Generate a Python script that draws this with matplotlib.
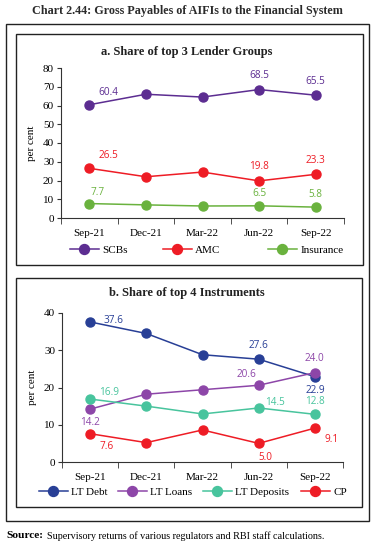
import matplotlib
matplotlib.use("Agg")
import matplotlib.pyplot as plt
from matplotlib.patches import Rectangle
import numpy as np

quarters = ["Sep-21", "Dec-21", "Mar-22", "Jun-22", "Sep-22"]

# panel a: share of top 3 lender groups (per cent)
scbs = [60.4, 66.0, 64.5, 68.5, 65.5]
amc = [26.5, 22.0, 24.5, 19.8, 23.3]
insurance = [7.7, 7.0, 6.4, 6.5, 5.8]

# panel b: share of top 4 instruments (per cent)
lt_debt = [37.6, 34.5, 28.8, 27.6, 22.9]
lt_loans = [14.2, 18.2, 19.4, 20.6, 24.0]
lt_deposits = [16.9, 15.0, 12.9, 14.5, 12.8]
cp = [7.6, 5.2, 8.6, 5.0, 9.1]

SERIF = "Liberation Serif"
SANS = "Open Sans"
W, H = 374, 548

fig = plt.figure(figsize=(W / 100, H / 100), dpi=100)


def fx(px):
    return px / W


def fy(py):
    return 1 - py / H


def box(x0, y0, x1, y1, lw=1.0):
    fig.patches.append(Rectangle((fx(x0), fy(y1)), fx(x1 - x0), (y1 - y0) / H,
                                 transform=fig.transFigure, fill=False,
                                 edgecolor="#222222", lw=lw))


box(6, 24, 369, 521)
box(16, 34, 363, 265)
box(16, 278, 362, 507)

fig.text(0.5, fy(11), "Chart 2.44: Gross Payables of AIFIs to the Financial System",
         ha="center", va="center", fontsize=8.7, fontweight="bold", family=SERIF,
         color="#2b2b2b")
fig.text(fx(187), fy(52), "a. Share of top 3 Lender Groups", ha="center", va="center",
         fontsize=9, fontweight="bold", family=SERIF, color="#222222")
fig.text(fx(187), fy(293), "b. Share of top 4 Instruments", ha="center", va="center",
         fontsize=9, fontweight="bold", family=SERIF, color="#222222")
fig.text(fx(6), fy(536), "Source:", ha="left", va="center", fontsize=8.2,
         fontweight="bold", family=SERIF)
fig.text(fx(47), fy(536), "Supervisory returns of various regulators and RBI staff calculations.",
         ha="left", va="center", fontsize=7.3, family=SERIF)


def style_axes(ax, ymax, ystep):
    x = np.arange(len(quarters))
    ax.set_xlim(-0.5, len(quarters) - 0.5)
    ax.set_ylim(0, ymax)
    ax.set_yticks(np.arange(0, ymax + 1, ystep))
    ax.set_xticks(x)
    ax.set_xticklabels(quarters, family=SERIF, fontsize=8)
    ax.set_xticks(np.arange(-0.5, len(quarters)), minor=True)
    ax.tick_params(axis="x", which="major", length=0, pad=8)
    ax.tick_params(axis="x", which="minor", length=4, color="#333333")
    ax.tick_params(axis="y", length=3, color="#333333", labelsize=8, pad=2)
    for lab in ax.get_yticklabels():
        lab.set_family(SERIF)
    for s in ["top", "right"]:
        ax.spines[s].set_visible(False)
    for s in ["left", "bottom"]:
        ax.spines[s].set_color("#333333")
        ax.spines[s].set_linewidth(0.8)
    ax.set_ylabel("per cent", family=SERIF, fontsize=8, labelpad=5)
    ax.patch.set_alpha(0)


def series(ax, vals, color, name):
    line, = ax.plot(np.arange(len(vals)), vals, color=color, lw=1.1, marker="o", ms=6.5,
                    label=name, clip_on=False)
    return line


def label(ax, i, vals, color, dx, dy, ha="center"):
    ax.annotate(f"{vals[i]:.1f}", (i, vals[i]), xytext=(dx, dy), textcoords="offset points",
                ha=ha, va="center", fontsize=7.2, family=SANS, color=color)


def legend_at(line, xpx, ypx):
    fig.legend([line], [line.get_label()], loc="center left",
               bbox_to_anchor=(fx(xpx), fy(ypx)), frameon=False,
               prop={"family": SERIF, "size": 8}, handlelength=2.6,
               handletextpad=0.3, borderaxespad=0, borderpad=0, markerscale=1.1)


# panel a
ax1 = fig.add_axes([fx(61), fy(218), fx(344 - 61), (218 - 68) / H])
style_axes(ax1, 80, 10)
c_scb, c_amc, c_ins = "#5c2d91", "#ee1c25", "#6ab23e"
l1 = series(ax1, scbs, c_scb, "SCBs")
l2 = series(ax1, amc, c_amc, "AMC")
l3 = series(ax1, insurance, c_ins, "Insurance")
label(ax1, 0, scbs, c_scb, 14, 9)
label(ax1, 3, scbs, c_scb, 0, 10)
label(ax1, 4, scbs, c_scb, 0, 10)
label(ax1, 0, amc, c_amc, 14, 9)
label(ax1, 3, amc, c_amc, 0, 10)
label(ax1, 4, amc, c_amc, 0, 10)
label(ax1, 0, insurance, c_ins, 6, 8)
label(ax1, 3, insurance, c_ins, 0, 9)
label(ax1, 4, insurance, c_ins, 0, 9)
legend_at(l1, 70, 250)
legend_at(l2, 163, 250)
legend_at(l3, 268, 250)

# panel b
ax2 = fig.add_axes([fx(62), fy(462), fx(343 - 62), (462 - 313) / H])
style_axes(ax2, 40, 10)
c_debt, c_loans, c_dep, c_cp = "#283f96", "#8d46a8", "#48c49d", "#ee1c25"
m1 = series(ax2, lt_debt, c_debt, "LT Debt")
m2 = series(ax2, lt_loans, c_loans, "LT Loans")
m3 = series(ax2, lt_deposits, c_dep, "LT Deposits")
m4 = series(ax2, cp, c_cp, "CP")
label(ax2, 0, lt_debt, c_debt, 17, 1)
label(ax2, 3, lt_debt, c_debt, 0, 10)
label(ax2, 4, lt_debt, c_debt, 0, -10)
label(ax2, 0, lt_loans, c_loans, 0, -10)
label(ax2, 3, lt_loans, c_loans, -9, 8)
label(ax2, 4, lt_loans, c_loans, 0, 10)
label(ax2, 0, lt_deposits, c_dep, 14, 5)
label(ax2, 3, lt_deposits, c_dep, 12, 4)
label(ax2, 4, lt_deposits, c_dep, 0, 9)
label(ax2, 0, cp, c_cp, 12, -9)
label(ax2, 3, cp, c_cp, 5, -10)
label(ax2, 4, cp, c_cp, 12, -8)
legend_at(m1, 39, 492)
legend_at(m2, 118, 492)
legend_at(m3, 203, 492)
legend_at(m4, 301, 492)

fig.savefig("out.png", dpi=100)
